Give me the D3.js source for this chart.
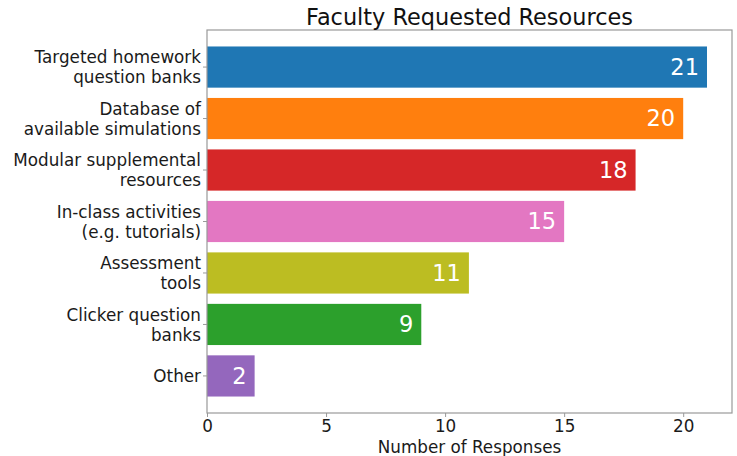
<!DOCTYPE html>
<html><head><meta charset="utf-8">
<script src="https://cdn.jsdelivr.net/npm/d3@7"></script>
<style>body{margin:0;background:#fff}svg{display:block;font-family:"DejaVu Sans",sans-serif}</style>
</head><body><svg id="c" width="737" height="456"></svg>
<script>
const categories = [["Targeted homework","question banks"],["Database of","available simulations"],["Modular supplemental","resources"],["In-class activities","(e.g. tutorials)"],["Assessment","tools"],["Clicker question","banks"],["Other"]];
const values = [21,20,18,15,11,9,2];
const colors = ["#1f77b4","#ff7f0e","#d62728","#e377c2","#bcbd22","#2ca02c","#9467bd"];
const xTicks = [0,5,10,15,20];

const svg = d3.select("#c");
const L=207,R=732,T=30,B=413;
const x = d3.scaleLinear().domain([0,22.05]).range([L,R]);
const y = d3.scaleLinear().domain([-0.72,6.72]).range([T,B]);
const g = svg.append("g");
const idx = d3.range(values.length);

g.selectAll("rect.bar").data(idx).join("rect").attr("class","bar")
 .attr("x",x(0)).attr("y",i=>y(i-0.4)).attr("width",i=>x(values[i])-x(0))
 .attr("height",i=>y(i+0.4)-y(i-0.4)).attr("fill",i=>colors[i]);

g.selectAll("text.val").data(idx).join("text").attr("class","val")
 .attr("x",i=>x(values[i])-8).attr("y",i=>y(i)).attr("dy","0.34em")
 .attr("text-anchor","end").attr("fill","#fff").attr("font-size",22.5)
 .text(i=>values[i]);

// frame
svg.append("rect").attr("x",L).attr("y",T).attr("width",R-L).attr("height",B-T)
 .attr("fill","none").attr("stroke","#999").attr("stroke-width",1.2);

// x axis
const xa = svg.append("g").attr("transform",`translate(0,${B})`)
 .call(d3.axisBottom(x).tickValues(xTicks).tickSize(4).tickPadding(3).tickFormat(d3.format("d")));
xa.select(".domain").remove();
xa.selectAll("line").attr("stroke","#999");
xa.selectAll("text").attr("font-size",16.8).attr("fill","#1a1a1a").attr("font-family","DejaVu Sans");

// y ticks
const ya = svg.append("g");
ya.selectAll("line").data(idx).join("line").attr("x1",L-4).attr("x2",L).attr("y1",i=>y(i)).attr("y2",i=>y(i)).attr("stroke","#999");
ya.selectAll("text").data(idx).join("text")
 .attr("x",L-6).attr("text-anchor","end").attr("font-size",16.8).attr("fill","#1a1a1a")
 .each(function(i){
   const lines=categories[i]; const t=d3.select(this); const lh=20;
   const y0=y(i)-(lines.length-1)*lh/2;
   lines.forEach((s,k)=>t.append("tspan").attr("x",L-6).attr("y",y0+k*lh).attr("dy","0.38em").text(s));
 });

svg.append("text").attr("x",(L+R)/2).attr("y",25).attr("text-anchor","middle").attr("font-size",22.4).attr("fill","#111").text("Faculty Requested Resources");
svg.append("text").attr("x",(L+R)/2).attr("y",453).attr("text-anchor","middle").attr("font-size",16.8).attr("fill","#1a1a1a").text("Number of Responses");
</script></body></html>
